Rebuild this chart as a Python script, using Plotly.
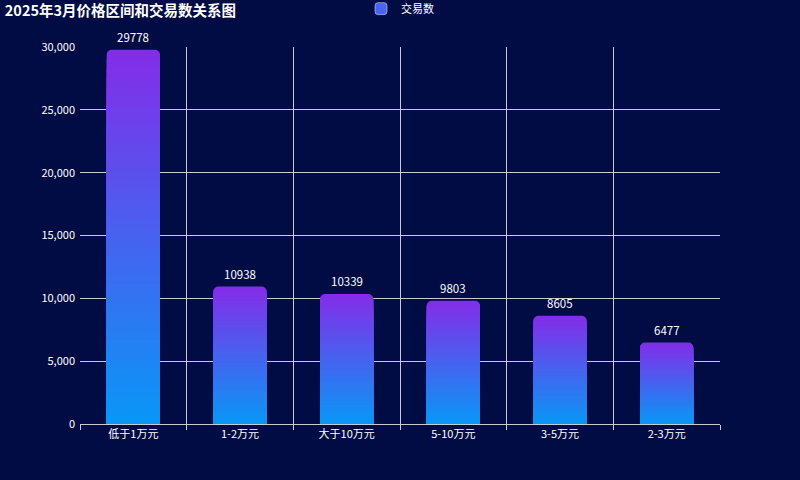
import plotly.graph_objects as go

categories = ["低于1万元", "1-2万元", "大于10万元", "5-10万元", "3-5万元", "2-3万元"]
values = [29778, 10938, 10339, 9803, 8605, 6477]
series_name = "交易数"
title_text = "2025年3月价格区间和交易数关系图"

top_rgb = (130, 46, 232)
bot_rgb = (10, 150, 246)
N = 40

def mix(t):
    r = round(top_rgb[0] + (bot_rgb[0] - top_rgb[0]) * t)
    g = round(top_rgb[1] + (bot_rgb[1] - top_rgb[1]) * t)
    b = round(top_rgb[2] + (bot_rgb[2] - top_rgb[2]) * t)
    return f"rgb({r},{g},{b})"

fig = go.Figure()
for k in range(N):
    frac = 1 - k / N
    fig.add_trace(go.Bar(
        x=categories, y=[v * frac for v in values],
        marker=dict(color=mix(k / (N - 1)), line=dict(width=0)),
        showlegend=False, hoverinfo="skip",
    ))

fig.add_trace(go.Bar(
    x=[categories[0]], y=[None], name=series_name,
    marker=dict(color="rgb(75,100,240)"), showlegend=True,
))

for c, v in zip(categories, values):
    fig.add_annotation(x=c, y=v, text=str(v), showarrow=False,
                       yanchor="bottom", yshift=3,
                       font=dict(color="#ffffff", size=11.5))

fig.update_layout(
    width=800, height=480,
    paper_bgcolor="#010b44", plot_bgcolor="#010b44",
    barmode="overlay", bargap=0.5, barcornerradius=5,
    margin=dict(l=80, r=80, t=47, b=56),
    font=dict(family="Noto Sans CJK SC", color="#ffffff", size=11),
    title=dict(text=f"<b>{title_text}</b>", x=0.006, xref="container", xanchor="left",
               y=0.978, yref="container", yanchor="middle",
               font=dict(size=14.5, color="#ffffff")),
    legend=dict(orientation="h", x=0.5, xanchor="center", xref="container",
                y=0.982, yref="container", yanchor="middle", itemwidth=30,
                font=dict(size=11, color="#ffffff"), bgcolor="rgba(0,0,0,0)"),
    xaxis=dict(type="category", tickson="boundaries", showgrid=True,
               gridcolor="#c9cad6", gridwidth=1, ticks="outside", ticklen=5,
               tickcolor="#c9cad6", showline=True, linecolor="#c9cad6",
               tickfont=dict(size=11, color="#ffffff"), zeroline=False),
    yaxis=dict(range=[0, 30000], dtick=5000, tickformat=",", showgrid=True,
               gridcolor="#c9cad6", gridwidth=1, zeroline=False, showline=False,
               ticklabelstandoff=4,
               tickfont=dict(size=11, color="#ffffff")),
)

fig.write_html(
    "out.html",
    config={"displayModeBar": False},
    post_script="document.body.style.margin='0';document.body.style.background='#010b44';",
)
